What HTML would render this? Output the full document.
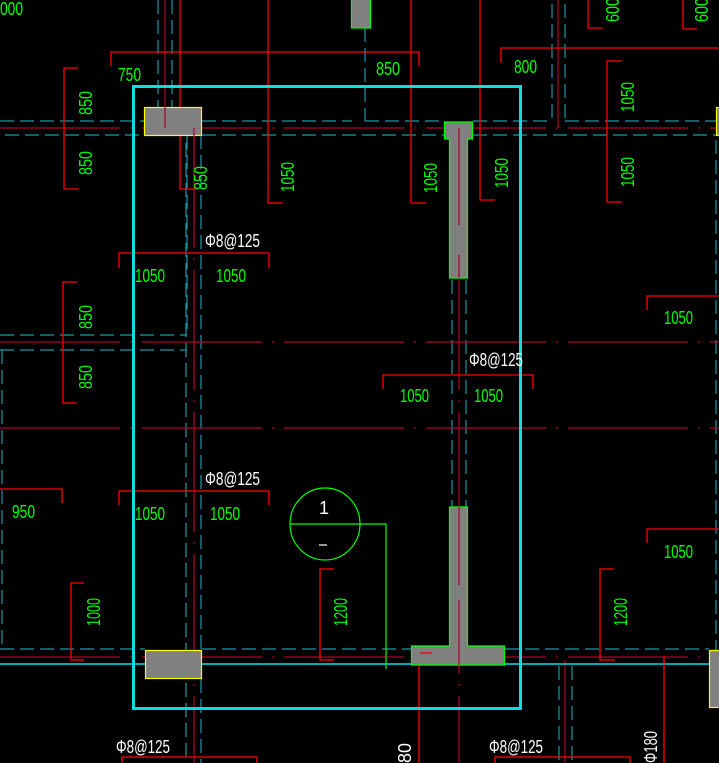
<!DOCTYPE html>
<html><head><meta charset="utf-8"><style>
html,body{margin:0;padding:0;background:#000;}
svg{display:block}
text{font-family:"Liberation Sans",sans-serif;font-size:18px;}
.g{fill:#00ff00}.w{fill:#fff}
</style></head><body>
<svg width="719" height="763" viewBox="0 0 719 763" xmlns="http://www.w3.org/2000/svg">
<rect width="719" height="763" fill="#000"/>
<!-- teal dashed lines -->
<g stroke="#1a9aaa" stroke-width="1.2" stroke-dasharray="14 6" fill="none">
<line x1="0" y1="121" x2="144" y2="121"/><line x1="202" y1="121" x2="352" y2="121"/>
<line x1="5" y1="135" x2="144" y2="135"/><line x1="202" y1="135" x2="444" y2="135"/><line x1="473" y1="135" x2="716" y2="135"/>
<line x1="158" y1="0" x2="158" y2="107"/><line x1="172" y1="0" x2="172" y2="107"/>
<line x1="186" y1="143" x2="186" y2="763"/><line x1="201" y1="135" x2="201" y2="650"/><line x1="201" y1="679" x2="201" y2="763"/>
<line x1="365" y1="28" x2="365" y2="121"/><polyline points="365,121 440,121"/>
<line x1="552" y1="4" x2="552" y2="121"/><line x1="565" y1="4" x2="565" y2="121"/>
<line x1="473" y1="121" x2="552" y2="121"/><line x1="565" y1="121" x2="716" y2="121"/>
<line x1="716" y1="140" x2="716" y2="650"/>
<line x1="0" y1="335" x2="187" y2="335"/><line x1="187" y1="135" x2="187" y2="335"/>
<line x1="0" y1="350" x2="187" y2="350"/><line x1="2" y1="350" x2="2" y2="649"/>
<line x1="452" y1="280" x2="452" y2="507"/><line x1="466" y1="280" x2="466" y2="507"/>
<line x1="0" y1="649" x2="145" y2="649"/><line x1="202" y1="649" x2="411" y2="649"/><line x1="505" y1="649" x2="709" y2="649"/>
<line x1="559" y1="666" x2="559" y2="763"/><line x1="572" y1="666" x2="572" y2="763"/>
</g>
<!-- center lines dark red -->
<g stroke="#b0002a" stroke-width="1.2" fill="none" stroke-dasharray="120 10 2 10">
<line x1="0" y1="128" x2="719" y2="128"/>
<line x1="0" y1="342" x2="719" y2="342"/>
<line x1="0" y1="428" x2="719" y2="428"/>
<line x1="0" y1="657" x2="719" y2="657"/>
<line x1="194" y1="128" x2="194" y2="763"/>
<line x1="459" y1="128" x2="459" y2="763"/>
</g>
<g stroke="#b0002a" stroke-width="1.2"><line x1="165" y1="0" x2="165" y2="128"/><line x1="558" y1="0" x2="558" y2="128"/><line x1="565" y1="660" x2="565" y2="763"/></g>
<!-- cyan solid line bottom -->
<line x1="0" y1="664" x2="719" y2="664" stroke="#00e0f0" stroke-width="1.5"/>
<!-- red dimension lines -->
<g stroke="#ff0000" stroke-width="1.3" fill="none">
<polyline points="111,66 111,52 419,52 419,66"/>
<polyline points="78,68 64,68 64,189 79,189"/>
<polyline points="180,0 180,189 197,189"/>
<polyline points="268,0 268,203 283,203"/>
<polyline points="411,0 411,203 426,203"/>
<polyline points="480,0 480,200 495,200"/>
<polyline points="501,63 501,48 719,48"/>
<polyline points="588,0 588,28 603,28"/>
<polyline points="683,0 683,29 697,29"/>
<polyline points="622,61 607,61 607,202 622,202"/>
<polyline points="119,268 119,253 269,253 269,268"/>
<polyline points="77,282 63,282 63,403 77,403"/>
<polyline points="383,389 383,375 533,375 533,389"/>
<polyline points="647,310 647,296 719,296"/>
<polyline points="0,489 62,489 62,503"/>
<polyline points="119,505 119,491 269,491 269,505"/>
<polyline points="647,543 647,529 719,529"/>
<polyline points="84,583 71,583 71,660 84,660"/>
<polyline points="334,569 320,569 320,660 334,660"/>
<polyline points="614,569 600,569 600,660 615,660"/>
<polyline points="432,653 419,653 419,763"/>
<polyline points="664,656 664,763"/>
<polyline points="122,763 122,757 257,757 257,763"/>
<polyline points="495,763 495,757 630,757 630,763"/>
</g>
<!-- columns -->
<rect x="144.5" y="107.5" width="57" height="28" fill="#808080" stroke="#ffff00" stroke-width="1.2"/>
<rect x="145.5" y="650.5" width="56" height="28" fill="#808080" stroke="#ffff00" stroke-width="1.2"/>
<rect x="709.5" y="650.5" width="12" height="57" fill="#808080" stroke="#ffff00" stroke-width="1.2"/>
<rect x="716.5" y="107.5" width="6" height="28" fill="#808080" stroke="#ffff00" stroke-width="1.2"/>
<rect x="351.5" y="-2" width="19" height="30" fill="#808080" stroke="#00ff00" stroke-width="1.2"/>
<polygon points="444.5,122 472.5,122 472.5,139 467.5,139 467.5,278 449.5,278 449.5,139 444.5,139" fill="#808080" stroke="#00ff00" stroke-width="1.2"/>
<polygon points="449.5,507 467.5,507 467.5,646 504.5,646 504.5,665 411.5,665 411.5,646 449.5,646" fill="#808080" stroke="#00ff00" stroke-width="1.2"/>
<g stroke="#b0002a" stroke-width="1.2"><line x1="459" y1="128" x2="459" y2="225"/><line x1="459" y1="255" x2="459" y2="278"/><line x1="459" y1="507" x2="459" y2="585"/><line x1="459" y1="600" x2="459" y2="665"/><line x1="165" y1="107" x2="165" y2="128"/><line x1="194" y1="128" x2="194" y2="225"/></g>
<line x1="420" y1="653" x2="432" y2="653" stroke="#ff0000" stroke-width="1.3"/>
<!-- cyan frame -->
<rect x="133.5" y="86.5" width="387" height="622" fill="none" stroke="#10dce0" stroke-width="3"/>
<!-- section symbol -->
<ellipse cx="325" cy="524" rx="35" ry="36" fill="none" stroke="#00ff00" stroke-width="1.2"/>
<polyline points="290,524 386,524 386,669" fill="none" stroke="#00ff00" stroke-width="1.2"/>
<text x="324" y="514" class="w" text-anchor="middle" font-size="18">1</text>
<line x1="319" y1="545" x2="327" y2="545" stroke="#fff" stroke-width="1.2"/>
<!-- horizontal texts -->
<g class="g">
<text x="118" y="81" textLength="23" lengthAdjust="spacingAndGlyphs">750</text>
<text x="376" y="75" textLength="24" lengthAdjust="spacingAndGlyphs">850</text>
<text x="514" y="73" textLength="23" lengthAdjust="spacingAndGlyphs">800</text>
<text x="135" y="282" textLength="30" lengthAdjust="spacingAndGlyphs">1050</text>
<text x="216" y="282" textLength="30" lengthAdjust="spacingAndGlyphs">1050</text>
<text x="400" y="402" textLength="29" lengthAdjust="spacingAndGlyphs">1050</text>
<text x="474" y="402" textLength="29" lengthAdjust="spacingAndGlyphs">1050</text>
<text x="664" y="324" textLength="29" lengthAdjust="spacingAndGlyphs">1050</text>
<text x="12" y="518" textLength="23" lengthAdjust="spacingAndGlyphs">950</text>
<text x="135" y="520" textLength="30" lengthAdjust="spacingAndGlyphs">1050</text>
<text x="210" y="520" textLength="30" lengthAdjust="spacingAndGlyphs">1050</text>
<text x="664" y="558" textLength="29" lengthAdjust="spacingAndGlyphs">1050</text>
<text x="0" y="15" textLength="23" lengthAdjust="spacingAndGlyphs">000</text>
</g>
<!-- rotated texts -->
<g class="g">
<text transform="translate(92,103) rotate(-90)" text-anchor="middle" textLength="24" lengthAdjust="spacingAndGlyphs">850</text>
<text transform="translate(92,163) rotate(-90)" text-anchor="middle" textLength="24" lengthAdjust="spacingAndGlyphs">850</text>
<text transform="translate(207,178) rotate(-90)" text-anchor="middle" textLength="24" lengthAdjust="spacingAndGlyphs">850</text>
<text transform="translate(294,177) rotate(-90)" text-anchor="middle" textLength="30" lengthAdjust="spacingAndGlyphs">1050</text>
<text transform="translate(437,178) rotate(-90)" text-anchor="middle" textLength="30" lengthAdjust="spacingAndGlyphs">1050</text>
<text transform="translate(508,173) rotate(-90)" text-anchor="middle" textLength="30" lengthAdjust="spacingAndGlyphs">1050</text>
<text transform="translate(634,97) rotate(-90)" text-anchor="middle" textLength="30" lengthAdjust="spacingAndGlyphs">1050</text>
<text transform="translate(634,172) rotate(-90)" text-anchor="middle" textLength="30" lengthAdjust="spacingAndGlyphs">1050</text>
<text transform="translate(619,10) rotate(-90)" text-anchor="middle" textLength="24" lengthAdjust="spacingAndGlyphs">600</text>
<text transform="translate(708,10) rotate(-90)" text-anchor="middle" textLength="24" lengthAdjust="spacingAndGlyphs">600</text>
<text transform="translate(92,317) rotate(-90)" text-anchor="middle" textLength="24" lengthAdjust="spacingAndGlyphs">850</text>
<text transform="translate(92,377) rotate(-90)" text-anchor="middle" textLength="24" lengthAdjust="spacingAndGlyphs">850</text>
<text transform="translate(100,612) rotate(-90)" text-anchor="middle" textLength="28" lengthAdjust="spacingAndGlyphs">1000</text>
<text transform="translate(347,612) rotate(-90)" text-anchor="middle" textLength="28" lengthAdjust="spacingAndGlyphs">1200</text>
<text transform="translate(627,612) rotate(-90)" text-anchor="middle" textLength="28" lengthAdjust="spacingAndGlyphs">1200</text>
</g>
<g class="w">
<text x="205" y="247" textLength="55" lengthAdjust="spacingAndGlyphs">Φ8@125</text>
<text x="469" y="366" textLength="54" lengthAdjust="spacingAndGlyphs">Φ8@125</text>
<text x="205" y="485" textLength="55" lengthAdjust="spacingAndGlyphs">Φ8@125</text>
<text x="116" y="753" textLength="54" lengthAdjust="spacingAndGlyphs">Φ8@125</text>
<text x="489" y="753" textLength="54" lengthAdjust="spacingAndGlyphs">Φ8@125</text>
<text transform="translate(411,763) rotate(-90)" textLength="20" lengthAdjust="spacingAndGlyphs">80</text>
<text transform="translate(657,763) rotate(-90)" textLength="32" lengthAdjust="spacingAndGlyphs">Φ180</text>
</g>
</svg>
</body></html>
